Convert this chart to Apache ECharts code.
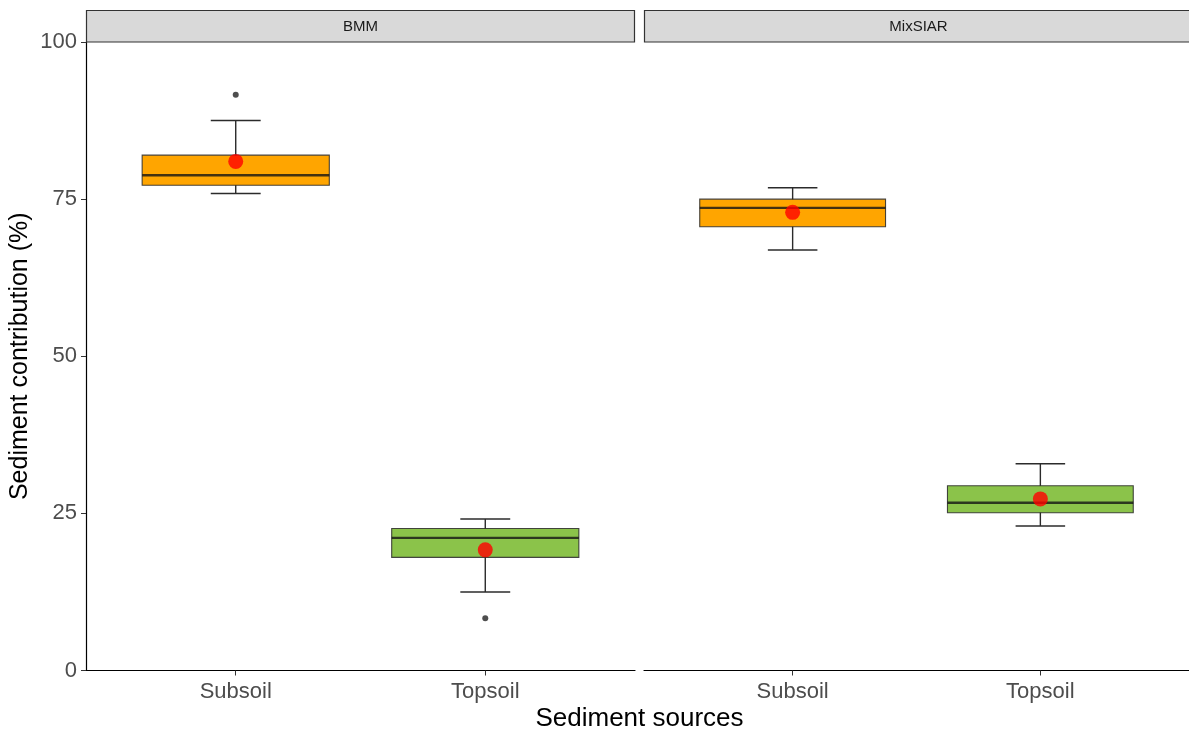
<!DOCTYPE html>
<html>
<head>
<meta charset="utf-8">
<script src="https://cdn.jsdelivr.net/npm/echarts@6/dist/echarts.min.js"></script>
<style>
  html, body { margin: 0; padding: 0; background: #fff; }
  #chart { width: 1189px; height: 731px; }
</style>
</head>
<body>
<div id="chart"></div>
<script>
// Sediment source categories and the two unmixing models (facets)
const sources = ['Subsoil', 'Topsoil'];
const models = ['BMM', 'MixSIAR'];
const yTicks = [0, 25, 50, 75, 100];

// Box statistics per source: [lower whisker, Q1, median, Q3, upper whisker]
const bmmStats = [
  [75.9, 77.2, 78.8, 82.0, 87.5],
  [12.5, 18.0, 21.1, 22.6, 24.1]
];
const mixStats = [
  [66.9, 70.6, 73.6, 75.0, 76.8],
  [23.0, 25.1, 26.7, 29.4, 32.9]
];

// Mean contributions (red dots)
const bmmMeans = [81.0, 19.2];
const mixMeans = [72.9, 27.3];

// Outliers: [source index, value]
const bmmOutliers = [[0, 91.6], [1, 8.3]];
const mixOutliers = [];

const fills = ['#FFA500', '#8BC34A'];
const FONT = '"Liberation Sans", Arial, sans-serif';

function boxData(stats) {
  return stats.map((s, i) => [i + 1].concat(s).concat([i]));
}
function meanData(means) {
  return means.map((m, i) => [i + 1, m]);
}
function outlierData(outs) {
  return outs.map(o => [o[0] + 1, o[1]]);
}

function renderBox(params, api) {
  const x = api.value(0);
  const lo = api.value(1), q1 = api.value(2), med = api.value(3), q3 = api.value(4), hi = api.value(5);
  const fill = fills[api.value(6)];
  const pLo = api.coord([x, lo]);
  const pQ1 = api.coord([x, q1]);
  const pMed = api.coord([x, med]);
  const pQ3 = api.coord([x, q3]);
  const pHi = api.coord([x, hi]);
  const halfBox = api.size([0.75, 0])[0] / 2;
  const halfCap = api.size([0.2, 0])[0] / 2;
  const cx = pLo[0];
  const wStyle = { stroke: '#2b2b2b', lineWidth: 1.4 };
  return {
    type: 'group',
    children: [
      { type: 'line', shape: { x1: cx, y1: pLo[1], x2: cx, y2: pHi[1] }, style: wStyle },
      { type: 'line', shape: { x1: cx - halfCap, y1: pLo[1], x2: cx + halfCap, y2: pLo[1] }, style: wStyle },
      { type: 'line', shape: { x1: cx - halfCap, y1: pHi[1], x2: cx + halfCap, y2: pHi[1] }, style: wStyle },
      {
        type: 'rect',
        shape: { x: cx - halfBox, y: pQ3[1], width: halfBox * 2, height: pQ1[1] - pQ3[1] },
        style: { fill: fill, stroke: 'rgba(40,40,40,0.85)', lineWidth: 1.1 }
      },
      { type: 'line', shape: { x1: cx - halfBox, y1: pMed[1], x2: cx + halfBox, y2: pMed[1] },
        style: { stroke: 'rgba(20,20,20,0.8)', lineWidth: 2.4 } }
    ]
  };
}

function xAxisFor(gridIndex) {
  return {
    type: 'value', gridIndex: gridIndex, min: 0.4, max: 2.6,
    splitLine: { show: false },
    axisLine: { show: true, onZero: false, lineStyle: { color: '#000', width: 1.2 } },
    axisTick: { show: true, customValues: [1, 2], length: 5, lineStyle: { color: '#333' } },
    axisLabel: {
      customValues: [1, 2], formatter: v => sources[Math.round(v) - 1],
      color: '#4D4D4D', fontSize: 22, fontFamily: FONT, margin: 10
    }
  };
}

const option = {
  backgroundColor: '#ffffff',
  animation: false,
  grid: [
    { left: 86, right: 554, top: 42, bottom: 60.5 },
    { left: 644, right: -4, top: 42, bottom: 60.5 }
  ],
  xAxis: [xAxisFor(0), xAxisFor(1)],
  yAxis: [
    {
      type: 'value', gridIndex: 0, min: 0, max: 100, interval: 25,
      splitLine: { show: false },
      axisLine: { show: true, lineStyle: { color: '#000', width: 1.2 } },
      axisTick: { show: true, length: 5, lineStyle: { color: '#333' } },
      axisLabel: { color: '#4D4D4D', fontSize: 22, fontFamily: FONT, margin: 9,
                   formatter: v => yTicks.includes(v) ? String(v) : '' },
      name: 'Sediment contribution (%)', nameLocation: 'middle', nameGap: 53,
      nameTextStyle: { color: '#000', fontSize: 25, fontFamily: FONT }
    },
    {
      type: 'value', gridIndex: 1, min: 0, max: 100, interval: 25,
      splitLine: { show: false }, axisLine: { show: false },
      axisTick: { show: false }, axisLabel: { show: false }
    }
  ],
  graphic: [
    { type: 'rect', shape: { x: 86.5, y: 10.5, width: 548, height: 31.5 },
      style: { fill: '#D9D9D9', stroke: '#333', lineWidth: 1.2 }, z: 10 },
    { type: 'rect', shape: { x: 644.5, y: 10.5, width: 560, height: 31.5 },
      style: { fill: '#D9D9D9', stroke: '#333', lineWidth: 1.2 }, z: 10 },
    { type: 'text', x: 360.5, y: 27, z: 11,
      style: { text: models[0], fill: '#1A1A1A', font: '15px ' + FONT, align: 'center', verticalAlign: 'middle' } },
    { type: 'text', x: 918.5, y: 27, z: 11,
      style: { text: models[1], fill: '#1A1A1A', font: '15px ' + FONT, align: 'center', verticalAlign: 'middle' } },
    { type: 'text', x: 639.5, y: 719, z: 11,
      style: { text: 'Sediment sources', fill: '#000', font: '26px ' + FONT, align: 'center', verticalAlign: 'middle' } }
  ],
  series: [
    { type: 'custom', xAxisIndex: 0, yAxisIndex: 0, renderItem: renderBox,
      data: boxData(bmmStats), encode: { x: 0, y: [1, 2, 3, 4, 5] } },
    { type: 'custom', xAxisIndex: 1, yAxisIndex: 1, renderItem: renderBox,
      data: boxData(mixStats), encode: { x: 0, y: [1, 2, 3, 4, 5] } },
    { type: 'scatter', xAxisIndex: 0, yAxisIndex: 0, data: outlierData(bmmOutliers),
      symbolSize: 6, itemStyle: { color: '#222' }, z: 5 },
    { type: 'scatter', xAxisIndex: 1, yAxisIndex: 1, data: outlierData(mixOutliers),
      symbolSize: 6, itemStyle: { color: '#222' }, z: 5 },
    { type: 'scatter', xAxisIndex: 0, yAxisIndex: 0, data: meanData(bmmMeans),
      symbolSize: 15, itemStyle: { color: '#FF0000' }, z: 6 },
    { type: 'scatter', xAxisIndex: 1, yAxisIndex: 1, data: meanData(mixMeans),
      symbolSize: 15, itemStyle: { color: '#FF0000' }, z: 6 }
  ]
};

const chart = echarts.init(document.getElementById('chart'), null, { renderer: 'canvas' });
chart.setOption(option);
</script>
</body>
</html>
